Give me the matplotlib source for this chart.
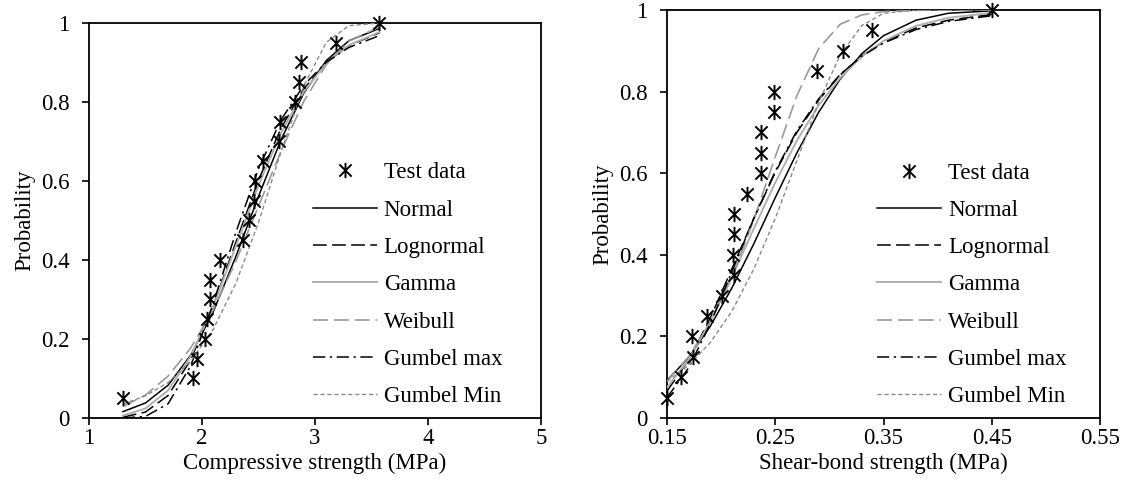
import matplotlib
matplotlib.use("Agg")
import matplotlib.pyplot as plt
from matplotlib.path import Path

# --- data: test points (strength, cumulative probability) ---
prob = [0.05, 0.10, 0.15, 0.20, 0.25, 0.30, 0.35, 0.40, 0.45, 0.50,
        0.55, 0.60, 0.65, 0.70, 0.75, 0.80, 0.85, 0.90, 0.95, 1.00]

comp_test = [1.30, 1.92, 1.96, 2.03, 2.04, 2.07, 2.07, 2.16, 2.36, 2.42,
             2.46, 2.47, 2.54, 2.68, 2.69, 2.82, 2.86, 2.88, 3.19, 3.57]
shear_test = [0.150, 0.163, 0.174, 0.173, 0.187, 0.201, 0.212, 0.211, 0.212, 0.212,
              0.224, 0.237, 0.237, 0.237, 0.249, 0.249, 0.289, 0.313, 0.339, 0.450]

# --- fitted CDF curves ---
comp_x = [1.3, 1.5, 1.7, 1.9, 2.1, 2.3, 2.5, 2.7, 2.9, 3.1, 3.3, 3.57]
comp_normal = [0.016, 0.038, 0.083, 0.159, 0.269, 0.409, 0.561, 0.705, 0.822, 0.905, 0.955, 0.986]
comp_lognormal = [0.002, 0.015, 0.057, 0.147, 0.284, 0.445, 0.602, 0.734, 0.833, 0.900, 0.943, 0.975]
comp_gamma = [0.006, 0.024, 0.070, 0.156, 0.283, 0.435, 0.589, 0.722, 0.826, 0.898, 0.944, 0.977]
comp_weibull = [0.029, 0.058, 0.106, 0.177, 0.274, 0.397, 0.536, 0.676, 0.801, 0.895, 0.954, 0.990]
comp_gumbel_max = [0.000, 0.004, 0.036, 0.132, 0.290, 0.470, 0.631, 0.755, 0.842, 0.901, 0.938, 0.968]
comp_gumbel_min = [0.035, 0.056, 0.090, 0.144, 0.225, 0.341, 0.495, 0.674, 0.840, 0.951, 0.993, 1.000]

shear_x = [0.15, 0.17, 0.19, 0.21, 0.23, 0.25, 0.27, 0.29, 0.31, 0.33, 0.35, 0.38, 0.41, 0.45]
shear_normal = [0.092, 0.148, 0.225, 0.319, 0.426, 0.540, 0.650, 0.749, 0.831, 0.893, 0.937, 0.975, 0.992, 0.998]
shear_lognormal = [0.066, 0.142, 0.245, 0.366, 0.488, 0.602, 0.700, 0.779, 0.841, 0.888, 0.922, 0.956, 0.975, 0.989]
shear_gamma = [0.075, 0.143, 0.237, 0.346, 0.463, 0.577, 0.680, 0.766, 0.834, 0.886, 0.924, 0.961, 0.981, 0.993]
shear_weibull = [0.090, 0.150, 0.235, 0.345, 0.485, 0.640, 0.790, 0.905, 0.965, 0.988, 0.996, 0.999, 1.000, 1.000]
shear_gumbel_max = [0.050, 0.123, 0.231, 0.359, 0.488, 0.605, 0.704, 0.782, 0.842, 0.887, 0.919, 0.952, 0.972, 0.986]
shear_gumbel_min = [0.089, 0.129, 0.185, 0.262, 0.364, 0.489, 0.631, 0.773, 0.890, 0.962, 0.992, 1.000, 1.000, 1.000]

labels = ["Normal", "Lognormal", "Gamma", "Weibull", "Gumbel max", "Gumbel Min"]
y_ticks = [0, 0.2, 0.4, 0.6, 0.8, 1]
y_ticklabels = ["0", "0.2", "0.4", "0.6", "0.8", "1"]
comp_ticks = [1, 2, 3, 4, 5]
comp_ticklabels = ["1", "2", "3", "4", "5"]
shear_ticks = [0.15, 0.25, 0.35, 0.45, 0.55]
shear_ticklabels = ["0.15", "0.25", "0.35", "0.45", "0.55"]

# line styles: colour, width, dash pattern (None = solid)
styles = [
    ("black", 1.1, None),
    ("black", 1.1, (9, 3.5)),
    ("#b0b0b0", 1.4, None),
    ("#9a9a9a", 1.2, (9, 3.5)),
    ("black", 1.1, (8, 3, 1.5, 3)),
    ("#8a8a8a", 1.0, (3, 2)),
]

# Excel-like star marker: X plus a vertical bar
star = Path([(-1, -1), (1, 1), (-1, 1), (1, -1), (0, -1.25), (0, 1.25)],
            [Path.MOVETO, Path.LINETO, Path.MOVETO, Path.LINETO, Path.MOVETO, Path.LINETO])

plt.rcParams['font.family'] = ['Liberation Serif', 'DejaVu Serif']
FS = 16.5


def draw_panel(ax, test_x, curve_x, curves, xlim, xticks, xticklabels, xlabel, leg_anchor):
    ax.plot(test_x, prob, linestyle='none', marker=star, markersize=11,
            markeredgewidth=1.4, color='black', label='Test data', clip_on=False, zorder=5)
    for curve, lab, (col, lw, dash) in zip(curves, labels, styles):
        line, = ax.plot(curve_x, curve, color=col, lw=lw, label=lab, zorder=3)
        if dash is not None:
            line.set_dashes(dash)

    ax.set_xlim(*xlim)
    ax.set_ylim(0, 1)
    ax.set_xticks(xticks)
    ax.set_xticklabels(xticklabels)
    ax.set_yticks(y_ticks)
    ax.set_yticklabels(y_ticklabels)
    ax.tick_params(axis='y', direction='out', length=5, width=1.2, labelsize=FS, pad=9)
    ax.tick_params(axis='x', direction='out', length=5, width=1.2, labelsize=FS, pad=2)
    for sp in ax.spines.values():
        sp.set_linewidth(1.3)
    ax.set_xlabel(xlabel, fontsize=FS, labelpad=3)
    ax.set_ylabel("Probability", fontsize=FS, labelpad=4)

    ax.legend(loc='center left', bbox_to_anchor=leg_anchor, frameon=False,
              fontsize=FS, handlelength=2.8, handletextpad=0.3,
              labelspacing=0.71, borderpad=0, borderaxespad=0)


fig = plt.figure(figsize=(11.25, 4.97), dpi=100)
ax1 = fig.add_axes([0.0791, 0.159, 0.4018, 0.7948])
ax2 = fig.add_axes([0.5929, 0.159, 0.3849, 0.8209])

draw_panel(ax1, comp_test, comp_x,
           [comp_normal, comp_lognormal, comp_gamma, comp_weibull, comp_gumbel_max, comp_gumbel_min],
           (1, 5), comp_ticks, comp_ticklabels, "Compressive strength (MPa)", (0.495, 0.337))
draw_panel(ax2, shear_test, shear_x,
           [shear_normal, shear_lognormal, shear_gamma, shear_weibull, shear_gumbel_max, shear_gumbel_min],
           (0.15, 0.55), shear_ticks, shear_ticklabels, "Shear-bond strength (MPa)", (0.485, 0.326))

fig.savefig("out.png", dpi=100)
